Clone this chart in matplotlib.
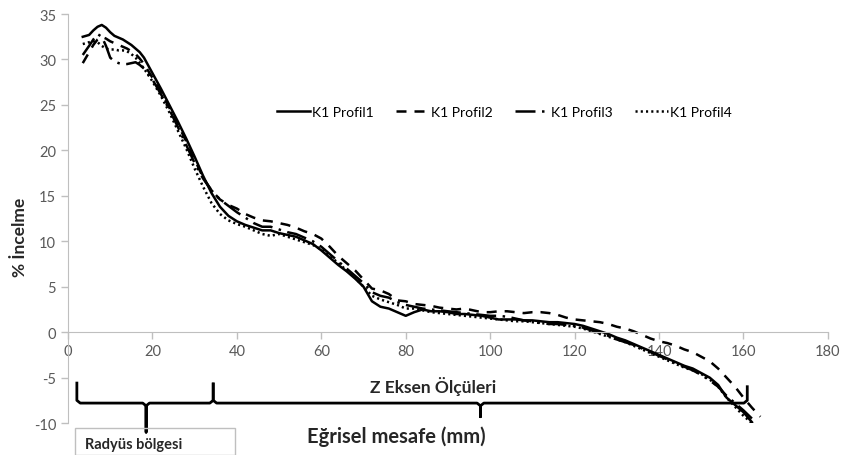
import matplotlib
matplotlib.use("Agg")
import matplotlib.pyplot as plt
from matplotlib.patches import Rectangle

plt.rcParams['font.family'] = ['Lato', 'DejaVu Sans']
plt.rcParams['axes.unicode_minus'] = False

# distance along the curve (mm)
x = [3.5, 5, 6, 7, 8, 9, 10, 11, 12, 13, 14, 15, 16, 17, 18, 20, 22, 24, 26, 28,
     30, 32, 34, 36, 38, 40, 42, 44, 46, 48, 50, 52, 54, 56, 58, 60, 62, 64, 66, 68,
     70, 72, 74, 76, 78, 80, 82, 84, 86, 88, 90, 92, 94, 96, 98, 100, 102, 104, 106, 108,
     110, 112, 114, 116, 118, 120, 122, 124, 126, 128, 130, 132, 134, 136, 138, 140, 142, 144, 146, 148,
     150, 152, 154, 156, 158, 160, 162]
x2 = x + [164]

profil1 = [32.5, 32.7, 33.2, 33.6, 33.8, 33.5, 33.0, 32.6, 32.4, 32.2, 31.9, 31.6, 31.2, 30.8, 30.2, 28.5, 26.8, 25.0, 23.2, 21.3,
           19.3, 17.2, 15.3, 13.8, 12.8, 12.2, 11.8, 11.5, 11.2, 11.2, 10.9, 10.7, 10.5, 10.1, 9.7, 9.0, 8.2, 7.4, 6.7, 5.9,
           5.0, 3.4, 2.8, 2.6, 2.2, 1.8, 2.2, 2.5, 2.3, 2.3, 2.2, 2.0, 2.0, 1.9, 1.8, 1.6, 1.4, 1.4, 1.4, 1.3,
           1.3, 1.2, 1.1, 1.1, 1.0, 0.9, 0.7, 0.4, 0.1, -0.2, -0.6, -0.9, -1.3, -1.7, -2.1, -2.5, -2.9, -3.3, -3.7, -4.0,
           -4.5, -5.0, -5.8, -7.2, -8.0, -8.8, -9.9]
profil2 = [29.6, 30.8, 31.6, 32.2, 32.5, 32.3, 32.0, 31.8, 31.6, 31.4, 31.2, 30.9, 30.6, 30.1, 29.5, 28.0, 26.4, 24.7, 22.9, 21.0,
           19.0, 17.0, 15.6, 14.6, 14.0, 13.6, 13.0, 12.6, 12.3, 12.2, 12.0, 11.8, 11.5, 11.1, 10.8, 10.3, 9.4, 8.4, 7.6, 6.8,
           5.8, 4.8, 4.6, 4.2, 3.5, 3.4, 3.1, 3.0, 2.9, 2.7, 2.6, 2.5, 2.6, 2.4, 2.2, 2.2, 2.3, 2.3, 2.2, 2.1,
           2.2, 2.2, 2.1, 1.9, 1.6, 1.4, 1.3, 1.2, 1.1, 0.9, 0.6, 0.4, 0.1, -0.3, -0.7, -1.0, -1.2, -1.5, -1.9, -2.2,
           -2.7, -3.2, -4.0, -5.0, -6.0, -7.2, -8.3, -9.3]
profil3 = [30.5, 31.5, 32.2, 32.8, 32.5, 31.5, 30.2, 29.8, 29.6, 29.5, 29.5, 29.6, 29.7, 29.4, 29.0, 27.8, 26.2, 24.5, 22.6, 20.6,
           18.6, 16.9, 15.6, 14.6, 13.9, 13.2, 12.6, 12.0, 11.6, 11.6, 11.3, 11.0, 10.8, 10.4, 10.0, 9.4, 8.6, 7.8, 7.0, 6.2,
           5.4, 4.4, 4.0, 3.8, 3.3, 3.0, 2.8, 2.6, 2.5, 2.4, 2.3, 2.2, 2.1, 2.0, 1.9, 1.8, 1.8, 1.7, 1.5, 1.3,
           1.2, 1.0, 0.9, 0.9, 0.8, 0.7, 0.5, 0.2, -0.1, -0.4, -0.8, -1.1, -1.4, -1.8, -2.2, -2.6, -3.0, -3.4, -3.8, -4.2,
           -4.7, -5.3, -6.0, -7.0, -7.8, -8.6, -9.5]
profil4 = [31.7, 31.9, 32.0, 31.9, 31.5, 31.2, 31.1, 31.1, 31.0, 31.0, 30.9, 30.6, 30.2, 29.6, 29.0, 27.6, 26.0, 24.2, 22.2, 20.2,
           18.0, 16.0, 14.2, 13.0, 12.3, 11.9, 11.6, 11.2, 10.8, 10.6, 10.8, 10.5, 10.2, 9.9, 9.6, 9.1, 8.4, 7.6, 6.8, 6.0,
           5.0, 4.0, 3.6, 3.3, 3.0, 2.6, 2.6, 2.4, 2.2, 2.1, 2.0, 1.9, 1.8, 1.7, 1.6, 1.5, 1.4, 1.3, 1.2, 1.2,
           1.1, 1.0, 0.9, 0.8, 0.7, 0.6, 0.4, 0.1, -0.2, -0.5, -0.8, -1.1, -1.5, -1.9, -2.3, -2.7, -3.1, -3.5, -3.9, -4.2,
           -4.6, -5.2, -6.0, -7.2, -8.2, -9.2, -10.0]

labels = ["K1 Profil1", "K1 Profil2", "K1 Profil3", "K1 Profil4"]

# brace annotations under the axis (data coords)
brace_radius = [2.1, 18.5, 34.4]
brace_z = [34.4, 97.7, 160.9]

fig = plt.figure(figsize=(8.5, 4.56), dpi=100)
ax = fig.add_axes([0.08, 0.07, 0.894, 0.897])

lw = 1.8
ax.plot(x, profil1, color="black", lw=lw, label=labels[0])
ax.plot(x2, profil2, color="black", lw=lw, dashes=(4.0, 3.2), label=labels[1])
ax.plot(x, profil3, color="black", lw=lw, dashes=(8.0, 2.6, 1.0, 2.6), label=labels[2])
ax.plot(x, profil4, color="black", lw=lw, dashes=(0.85, 1.25), label=labels[3])

ax.set_xlim(0, 180)
ax.set_ylim(-10, 35)
ax.set_xticks(range(0, 181, 20))
ax.set_yticks(range(-10, 36, 5))

for s in ["top", "right"]:
    ax.spines[s].set_visible(False)
ax.spines["bottom"].set_position(("data", 0))
ax.spines["bottom"].set_color("#bfbfbf")
ax.spines["left"].set_color("#bfbfbf")
ax.tick_params(colors="#bfbfbf", labelcolor="#595959", labelsize=10.5, length=5, width=1)

fig.text(20 / 850, 1 - 237 / 456, "% İncelme", fontsize=12.5, fontweight="bold",
         rotation=90, ha="center", va="center", color="#262626")

# braces
def brace(x0, xm, x1, y_top0, y_top1, y_bot, y_line=-7.8):
    xs = [x0, x0, x0 + 0.8, xm - 0.8, xm, xm, xm, xm + 0.8, x1 - 0.8, x1, x1]
    ys = [y_top0, y_line + 0.3, y_line, y_line, y_line - 0.3, y_bot, y_line - 0.3, y_line, y_line, y_line + 0.3, y_top1]
    ax.plot(xs, ys, color="black", lw=2.0, clip_on=False, solid_joinstyle="round")

brace(brace_radius[0], brace_radius[1], brace_radius[2], -5.6, -5.7, -11.0)
brace(brace_z[0], brace_z[1], brace_z[2], -5.7, -6.0, -9.3)

ax.text(86.5, -5.9, "Z Eksen Ölçüleri", fontsize=12.5, fontweight="bold",
        ha="center", va="center", color="#262626")

fig.text(396 / 850, 1 - 437 / 456, "Eğrisel mesafe (mm)", fontsize=14.5, fontweight="bold",
         ha="center", va="center", color="#262626")

fig.patches.append(Rectangle((75 / 850, 0), (235 - 75) / 850, (456 - 429) / 456,
                             transform=fig.transFigure, fill=False, edgecolor="#bfbfbf", lw=1))
fig.text(85 / 850, 1 - 445 / 456, "Radyüs bölgesi", fontsize=10.5, fontweight="bold",
         ha="left", va="center", color="#262626")

ax.legend(loc="center", bbox_to_anchor=(0.574, 0.76), ncol=4, frameon=False, fontsize=10,
          handlelength=2.4, handletextpad=0.15, columnspacing=1.6)

fig.savefig("out.png", dpi=100)
